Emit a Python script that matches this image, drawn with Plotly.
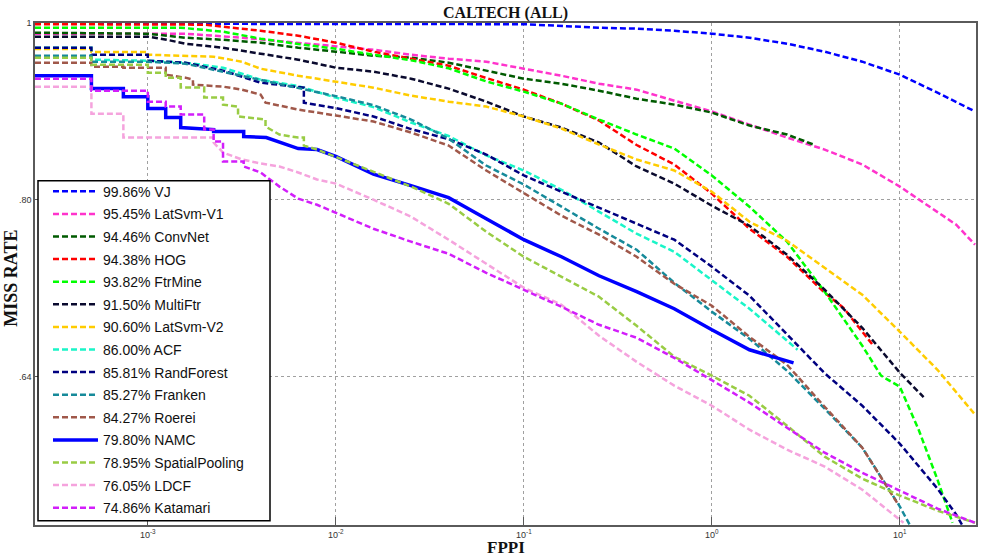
import plotly.graph_objects as go

# ---------------- data (FPPI, miss rate) ----------------
vj_fppi = [2.512e-4, 0.03981, 0.1, 0.2512, 0.3981, 0.631, 1.0, 1.585, 2.512, 3.981, 6.310, 10.0, 15.85, 25.12]
vj_miss = [0.9992, 0.9992, 0.9985, 0.9941, 0.9929, 0.9903, 0.9866, 0.9816, 0.9742, 0.9645, 0.9524, 0.9369, 0.9159, 0.8944]

latsvm1_fppi = [2.512e-4, 1.585e-3, 3.162e-3, 6.310e-3, 0.01, 0.01585, 0.02512, 0.03981, 0.0631, 0.1, 0.1585, 0.2512,
                0.3981, 0.631, 1.0, 1.585, 2.512, 3.981, 6.310, 10.0, 15.85, 19.95, 25.12]
latsvm1_miss = [0.9866, 0.9866, 0.9816, 0.9755, 0.9718, 0.9669, 0.9608, 0.9560, 0.9524, 0.9440, 0.9357, 0.9263,
                0.9194, 0.9067, 0.8944, 0.8798, 0.8655, 0.8525, 0.8366, 0.8136, 0.7882, 0.7754, 0.7561]

convnet_fppi = [2.512e-4, 1e-3, 1.585e-3, 2.512e-3, 3.981e-3, 6.310e-3, 0.01, 0.01585, 0.02512, 0.03981, 0.0631, 0.1,
                0.1585, 0.2512, 0.3981, 0.631, 1.0, 1.585, 2.512, 3.475]
convnet_miss = [0.9878, 0.9866, 0.9816, 0.9791, 0.9755, 0.9693, 0.9645, 0.9596, 0.9572, 0.9512, 0.9417, 0.9322,
                0.9263, 0.9182, 0.9090, 0.9022, 0.8932, 0.8787, 0.8688, 0.8579]

hog_fppi = [2.512e-4, 1.995e-3, 3.981e-3, 6.310e-3, 0.01, 0.01585, 0.02512, 0.03981, 0.0631, 0.1, 0.1585, 0.2512,
            0.3981, 0.631, 1.0, 1.585, 2.512, 3.981, 5.012, 7.16]
hog_miss = [0.9985, 0.9979, 0.9903, 0.9841, 0.9755, 0.9645, 0.9560, 0.9476, 0.9330, 0.9194, 0.9033, 0.8843,
            0.8574, 0.8366, 0.8064, 0.7715, 0.7447, 0.7117, 0.6983, 0.6665]

ftrmine_fppi = [2.512e-4, 1.496e-3, 2.512e-3, 3.981e-3, 6.310e-3, 0.01, 0.01585, 0.02512, 0.03981, 0.0631, 0.1,
                0.1585, 0.2512, 0.3981, 0.631, 1.0, 1.585, 2.512, 3.981, 6.310, 7.943, 10.0, 12.59, 15.85, 19.06]
ftrmine_miss = [0.9941, 0.9941, 0.9891, 0.9804, 0.9738, 0.9681, 0.9608, 0.9542, 0.9445, 0.9290, 0.9171,
                0.9033, 0.8854, 0.8688, 0.8536, 0.8251, 0.7932, 0.7590, 0.7126, 0.6657, 0.6410, 0.6322, 0.5988,
                0.5623, 0.5325]

multiftr_fppi = [2.512e-4, 1e-3, 1.259e-3, 1.585e-3, 2.512e-3, 3.981e-3, 6.310e-3, 0.01, 0.01585, 0.02512, 0.03981,
                 0.0631, 0.1, 0.1585, 0.2512, 0.3981, 0.631, 1.0, 1.585, 2.512, 3.981, 6.310, 10.0, 13.37]
multiftr_miss = [0.9829, 0.9829, 0.9791, 0.9742, 0.9693, 0.9620, 0.9548, 0.9452, 0.9405, 0.9322, 0.9206,
                 0.9056, 0.8888, 0.8765, 0.8601, 0.8345, 0.8167, 0.7942, 0.7744, 0.7466, 0.7144, 0.6809, 0.6434,
                 0.6239]

latsvm2_fppi = [2.512e-4, 5.012e-4, 5.012e-4, 1e-3, 1e-3, 2.239e-3, 3.162e-3, 3.981e-3, 6.310e-3, 0.01, 0.01585,
                0.02512, 0.03981, 0.0631, 0.1, 0.1585, 0.2512, 0.3981, 0.631, 1.0, 1.585, 2.512, 3.981, 6.310,
                10.0, 15.85, 25.12]
latsvm2_miss = [0.9678, 0.9678, 0.9641, 0.9641, 0.9608, 0.9584, 0.9524, 0.9440, 0.9357, 0.9287, 0.9217,
                0.9125, 0.9056, 0.9000, 0.8888, 0.8754, 0.8579, 0.8419, 0.8303, 0.8084, 0.7783, 0.7599, 0.7344,
                0.7099, 0.6775, 0.6458, 0.6103]

acf_fppi = [2.512e-4, 5.012e-4, 5.012e-4, 1e-3, 1.585e-3, 2.512e-3, 3.981e-3, 6.310e-3, 0.01, 0.01585, 0.02512,
            0.03981, 0.0631, 0.1, 0.1585, 0.2512, 0.3981, 0.631, 1.0, 1.585, 2.512, 2.857]
acf_miss = [0.9693, 0.9693, 0.9548, 0.9536, 0.9512, 0.9452, 0.9310, 0.9235, 0.9102, 0.8994, 0.8821,
            0.8672, 0.8462, 0.8303, 0.8104, 0.7882, 0.7667, 0.7494, 0.7234, 0.6975, 0.6699, 0.6623]

randforest_fppi = [2.512e-4, 5.012e-4, 5.012e-4, 1e-3, 1e-3, 1.585e-3, 2.512e-3, 3.981e-3, 6.761e-3, 6.761e-3,
                   0.01, 0.01585, 0.02512, 0.03981, 0.0631, 0.1, 0.1585, 0.2512, 0.3981, 0.631, 1.0, 1.585,
                   2.512, 3.981, 6.310, 10.0, 15.85, 19.95, 21.38]
randforest_miss = [0.9693, 0.9693, 0.9608, 0.9608, 0.9536, 0.9512, 0.9417, 0.9275, 0.9217, 0.9044,
                   0.8983, 0.8888, 0.8748, 0.8638, 0.8472, 0.8251, 0.8084, 0.7922, 0.7764, 0.7609, 0.7354, 0.7090,
                   0.6753, 0.6430, 0.6172, 0.5883, 0.5559, 0.5380, 0.5313]

franken_fppi = [2.512e-4, 5.012e-4, 5.012e-4, 1e-3, 1.585e-3, 2.512e-3, 3.981e-3, 6.310e-3, 0.01, 0.01585,
                0.02512, 0.03981, 0.0631, 0.1, 0.1585, 0.2512, 0.3981, 0.631, 1.0, 1.585, 2.512, 3.981, 6.310,
                10.0, 11.26]
franken_miss = [0.9596, 0.9596, 0.9524, 0.9524, 0.9500, 0.9405, 0.9310, 0.9217, 0.9119, 0.9016,
                0.8854, 0.8644, 0.8355, 0.8157, 0.7932, 0.7715, 0.7513, 0.7207, 0.6949, 0.6715, 0.6450, 0.6149,
                0.5854, 0.5435, 0.5313]

roerei_fppi = [2.512e-4, 5.012e-4, 5.012e-4, 7.413e-4, 7.413e-4, 1.245e-3, 1.245e-3, 1.585e-3, 1.738e-3, 1.738e-3,
               2.512e-3, 3.162e-3, 3.981e-3, 4.227e-3, 5.012e-3, 6.310e-3, 0.01, 0.01585, 0.02512, 0.03981,
               0.0631, 0.1, 0.1585, 0.2512, 0.3981, 0.631, 1.0, 1.585, 2.512, 3.981, 6.310, 9.72]
roerei_miss = [0.9512, 0.9512, 0.9464, 0.9464, 0.9452, 0.9452, 0.9369, 0.9334, 0.9310, 0.9252,
               0.9229, 0.9194, 0.9136, 0.9045, 0.9011, 0.8966, 0.8899, 0.8832, 0.8710, 0.8568,
               0.8303, 0.8074, 0.7843, 0.7657, 0.7447, 0.7198, 0.7001, 0.6732, 0.6499, 0.6164, 0.5854, 0.5456]

namc_fppi = [2.512e-4, 5.012e-4, 5.012e-4, 7.413e-4, 7.413e-4, 1e-3, 1e-3, 1.245e-3, 1.245e-3, 1.496e-3,
             1.496e-3, 2.239e-3, 2.239e-3, 3.236e-3, 3.236e-3, 4.266e-3, 6.310e-3, 7.943e-3, 0.01, 0.01585,
             0.02512, 0.03981, 0.0631, 0.1, 0.1585, 0.2512, 0.3981, 0.631, 1.0, 1.585, 2.72]
namc_miss = [0.9357, 0.9357, 0.9206, 0.9206, 0.9113, 0.9113, 0.8977, 0.8977, 0.8876, 0.8876,
             0.8765, 0.8743, 0.8721, 0.8721, 0.8666, 0.8655, 0.8536, 0.8525, 0.8451, 0.8265,
             0.8146, 0.8023, 0.7813, 0.7609, 0.7447, 0.7271, 0.7126, 0.6975, 0.6792, 0.6623, 0.6515]

spatial_fppi = [2.512e-4, 5.012e-4, 5.012e-4, 1e-3, 1e-3, 1.245e-3, 1.245e-3, 1.496e-3, 1.496e-3, 1.995e-3,
                1.995e-3, 2.512e-3, 2.512e-3, 3.020e-3, 3.020e-3, 3.981e-3, 4.227e-3, 4.227e-3, 5.012e-3,
                6.310e-3, 6.761e-3, 6.761e-3, 7.943e-3, 0.01, 0.01585, 0.02512, 0.03981, 0.0631, 0.1, 0.1585,
                0.2512, 0.3981, 0.631, 1.0, 1.585, 2.512, 3.981, 6.310, 10.0, 15.85, 25.12]
spatial_miss = [0.9572, 0.9572, 0.9488, 0.9488, 0.9393, 0.9393, 0.9334, 0.9334, 0.9218, 0.9218,
                0.9102, 0.9102, 0.9022, 0.8999, 0.8888, 0.8854, 0.8854, 0.8776, 0.8688,
                0.8655, 0.8655, 0.8568, 0.8525, 0.8446, 0.8292, 0.8136, 0.7962, 0.7686, 0.7447, 0.7262,
                0.7081, 0.6826, 0.6565, 0.6410, 0.6250, 0.6018, 0.5788, 0.5630, 0.5511, 0.5407, 0.5325]

ldcf_fppi = [2.512e-4, 5.012e-4, 5.012e-4, 7.413e-4, 7.413e-4, 2.239e-3, 2.239e-3, 2.512e-3, 3.162e-3, 3.981e-3,
             5.012e-3, 6.310e-3, 7.943e-3, 0.01, 0.01585, 0.02512, 0.03981, 0.0631, 0.1, 0.1585, 0.2512,
             0.3981, 0.631, 1.0, 1.585, 2.512, 3.981, 6.310, 10.46]
ldcf_miss = [0.9229, 0.9229, 0.8919, 0.8919, 0.8655, 0.8655, 0.8601, 0.8493, 0.8419, 0.8377,
             0.8345, 0.8282, 0.8209, 0.8167, 0.8003, 0.7833, 0.7609, 0.7382, 0.7162, 0.7010, 0.6741,
             0.6523, 0.6330, 0.6172, 0.5988, 0.5839, 0.5716, 0.5552, 0.5325]

katamari_fppi = [2.512e-4, 5.012e-4, 5.012e-4, 1e-3, 1e-3, 1.245e-3, 1.245e-3, 1.496e-3, 1.496e-3, 1.995e-3,
                 1.995e-3, 2.239e-3, 2.239e-3, 2.512e-3, 2.512e-3, 3.236e-3, 3.236e-3, 3.981e-3, 5.012e-3,
                 6.310e-3, 7.943e-3, 0.01, 0.01585, 0.02512, 0.03981, 0.0631, 0.1, 0.1585, 0.2512, 0.3981,
                 0.631, 1.0, 1.585, 2.512, 3.981, 6.310, 10.0, 15.85, 25.12]
katamari_miss = [0.9322, 0.9322, 0.9182, 0.9182, 0.9056, 0.9056, 0.9000, 0.9000, 0.8910, 0.8910,
                 0.8743, 0.8743, 0.8611, 0.8611, 0.8398, 0.8398, 0.8345, 0.8282, 0.8136,
                 0.8013, 0.7952, 0.7872, 0.7715, 0.7590, 0.7475, 0.7298, 0.7144, 0.6992, 0.6835, 0.6724,
                 0.6556, 0.6370, 0.6196, 0.6003, 0.5817, 0.5672, 0.5545, 0.5421, 0.5325]

labels = ["99.86% VJ", "95.45% LatSvm-V1", "94.46% ConvNet", "94.38% HOG", "93.82% FtrMine",
          "91.50% MultiFtr", "90.60% LatSvm-V2", "86.00% ACF", "85.81% RandForest", "85.27% Franken",
          "84.27% Roerei", "79.80% NAMC", "78.95% SpatialPooling", "76.05% LDCF", "74.86% Katamari"]

x_tick_vals = [1e-3, 1e-2, 1e-1, 1, 10]
x_tick_text = ["10<sup>-3</sup>", "10<sup>-2</sup>", "10<sup>-1</sup>", "10<sup>0</sup>", "10<sup>1</sup>"]
y_tick_vals = [0.64, 0.80, 1.0]
y_tick_text = [".64", ".80", "1"]

# ---------------- styling ----------------
series = [
    (vj_fppi, vj_miss, "#0000FF", "dash"),
    (latsvm1_fppi, latsvm1_miss, "#FF33CC", "dash"),
    (convnet_fppi, convnet_miss, "#005A00", "dash"),
    (hog_fppi, hog_miss, "#FF0000", "dash"),
    (ftrmine_fppi, ftrmine_miss, "#00FF00", "dash"),
    (multiftr_fppi, multiftr_miss, "#0A0A2E", "dash"),
    (latsvm2_fppi, latsvm2_miss, "#FFCC00", "dash"),
    (acf_fppi, acf_miss, "#1AF5C8", "dash"),
    (randforest_fppi, randforest_miss, "#000080", "dash"),
    (franken_fppi, franken_miss, "#168A9A", "dash"),
    (roerei_fppi, roerei_miss, "#A0584A", "dash"),
    (namc_fppi, namc_miss, "#0000FF", "solid"),
    (spatial_fppi, spatial_miss, "#99CC44", "dash"),
    (ldcf_fppi, ldcf_miss, "#F5A3DD", "dash"),
    (katamari_fppi, katamari_miss, "#D21EFA", "dash"),
]

fig = go.Figure()
for i, ((xs, ys, col, kind), lab) in enumerate(zip(series, labels)):
    if kind == "solid":
        line = dict(color=col, width=3.5)
    else:
        line = dict(color=col, width=2.5, dash="6px,3px")
    fig.add_trace(go.Scatter(x=xs, y=ys, mode="lines", name=lab, line=line,
                             legendgroup=f"g{i}", hoverinfo="skip"))

axis_common = dict(
    type="log", showline=True, linecolor="#5a5a5a", linewidth=1.5, mirror=True,
    showgrid=True, gridcolor="#a0a0a0", griddash="dot", gridwidth=1,
    ticks="inside", ticklen=8, tickcolor="#5a5a5a", tickwidth=1,
    tickfont=dict(family="Liberation Sans, Arial", size=9, color="#333333"),
    zeroline=False, automargin=False,
)

PLOT_W, PLOT_H, ML, MT = 941, 502, 35, 23.3


def px_x(p):
    return (p - ML) / PLOT_W


def px_y(p):
    return 1 - (p - MT) / PLOT_H


fig.update_layout(
    width=983, height=556,
    margin=dict(l=35, r=7, t=23, b=31, pad=0, autoexpand=False),
    paper_bgcolor="white", plot_bgcolor="white",
    title=dict(text="<b>CALTECH (ALL)</b>", x=0.5, xref="paper", yref="container", y=1 - 12 / 556,
               yanchor="middle", automargin=False,
               font=dict(family="Liberation Serif, Times New Roman", size=16, color="#111111")),
    xaxis=dict(axis_common, range=[-3.6, 1.405], tickvals=x_tick_vals, ticktext=x_tick_text),
    yaxis=dict(axis_common, range=[-0.2749, 0], tickvals=y_tick_vals, ticktext=y_tick_text),
    showlegend=True,
    legend=dict(x=px_x(48), y=px_y(176), xanchor="left", yanchor="top",
                bgcolor="rgba(0,0,0,0)", borderwidth=0,
                font=dict(family="Liberation Sans, Arial", size=14, color="#111111"),
                itemwidth=45, tracegroupgap=1.4, traceorder="grouped"),
    shapes=[dict(type="rect", xref="paper", yref="paper", x0=px_x(38), x1=px_x(270),
                 y0=px_y(521), y1=px_y(181), fillcolor="white",
                 line=dict(color="#000000", width=1.5), layer="above")],
    annotations=[
        dict(text="<b>MISS RATE</b>", xref="paper", yref="paper", x=0, y=px_y(279),
             xanchor="right", yanchor="middle", xshift=-12, textangle=-90, showarrow=False,
             font=dict(family="Liberation Serif, Times New Roman", size=18, color="#111111")),
        dict(text="<b>FPPI</b>", xref="paper", yref="paper", x=0.5, y=0, xanchor="center",
             yanchor="top", yshift=-11, showarrow=False,
             font=dict(family="Liberation Serif, Times New Roman", size=17, color="#111111")),
    ],
)

fig.write_html("out.html", config={"displayModeBar": False},
               post_script="document.body.style.margin='0';document.body.style.overflow='hidden';")
